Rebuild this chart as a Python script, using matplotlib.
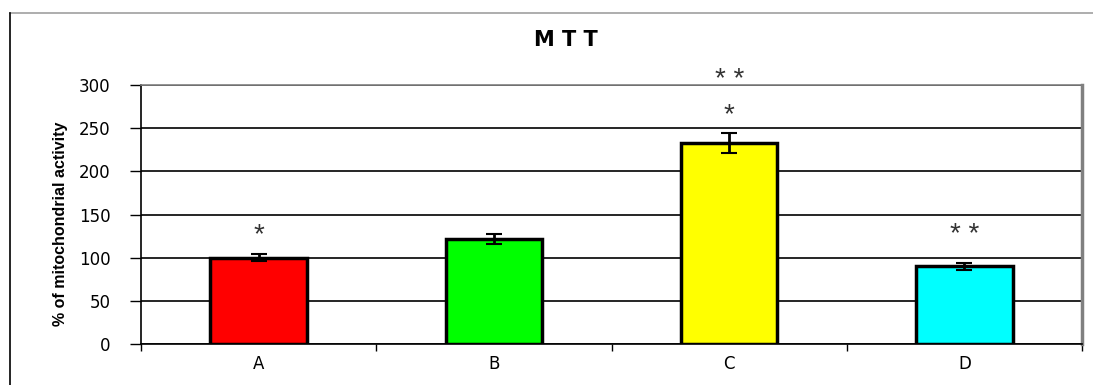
import numpy as np
import matplotlib.pyplot as plt
from matplotlib.lines import Line2D

plt.rcParams['font.family'] = ['DejaVu Sans']

# MTT assay results
groups = ["A", "B", "C", "D"]
activity = [100, 122, 233, 90]
errors = [4, 6, 12, 4]
colors = ["#ff0000", "#00ff00", "#ffff00", "#00ffff"]
# significance marks: (group index, y value, text)
marks = [(0, 126, "*"), (2, 265, "*"), (2, 306, "* *"), (3, 126, "* *")]

fig = plt.figure(figsize=(10.93, 3.85), dpi=100)
ax = fig.add_axes([0.129, 0.1065, 0.861, 0.6725])

x = np.arange(len(groups))
ax.bar(x, activity, width=0.41, color=colors, edgecolor="black", linewidth=2.5, zorder=3)
ax.errorbar(x, activity, yerr=errors, fmt="none", ecolor="black", elinewidth=2,
            capsize=6, capthick=1.5, zorder=4)

for i, y, t in marks:
    ax.text(x[i], y, t, ha="center", va="center", fontsize=20, color="#333333",
            family="Liberation Sans", clip_on=False, zorder=5)

ax.set_xlim(-0.5, len(groups) - 0.5)
ax.set_ylim(0, 300)
ax.set_yticks(range(0, 301, 50))
ax.yaxis.grid(True, color="black", linewidth=1.2)
ax.set_axisbelow(True)

ax.set_xticks(x)
ax.set_xticklabels(groups, fontsize=12)
ax.set_xticks(np.arange(-0.5, len(groups)), minor=True)
ax.tick_params(axis="x", which="major", length=0, pad=8)
ax.tick_params(axis="x", which="minor", length=5, width=1, direction="out")
ax.tick_params(axis="y", length=8, width=1, direction="out", labelsize=12, pad=14)

for s in ["left", "bottom"]:
    ax.spines[s].set_color("black")
    ax.spines[s].set_linewidth(1.2)
ax.spines["top"].set_color("#808080")
ax.spines["top"].set_linewidth(1.2)
ax.spines["right"].set_color("#808080")
ax.spines["right"].set_linewidth(2.5)

fig.text(60 / 1093, 1 - 224 / 385, "% of mitochondrial activity", rotation=90,
         ha="center", va="center", fontsize=11.5, fontweight="bold",
         family="Liberation Sans")

fig.text(0.518, 0.895, "M T T", ha="center", va="center", fontsize=15, fontweight="bold")

# outer chart frame
fig.add_artist(Line2D([10 / 1093, 1.0], [1 - 13 / 385, 1 - 13 / 385], color="#a0a0a0",
                      linewidth=1.2, transform=fig.transFigure))
fig.add_artist(Line2D([10 / 1093, 10 / 1093], [0, 1 - 13 / 385], color="black",
                      linewidth=1.2, transform=fig.transFigure))

fig.savefig("out.png", dpi=100)
